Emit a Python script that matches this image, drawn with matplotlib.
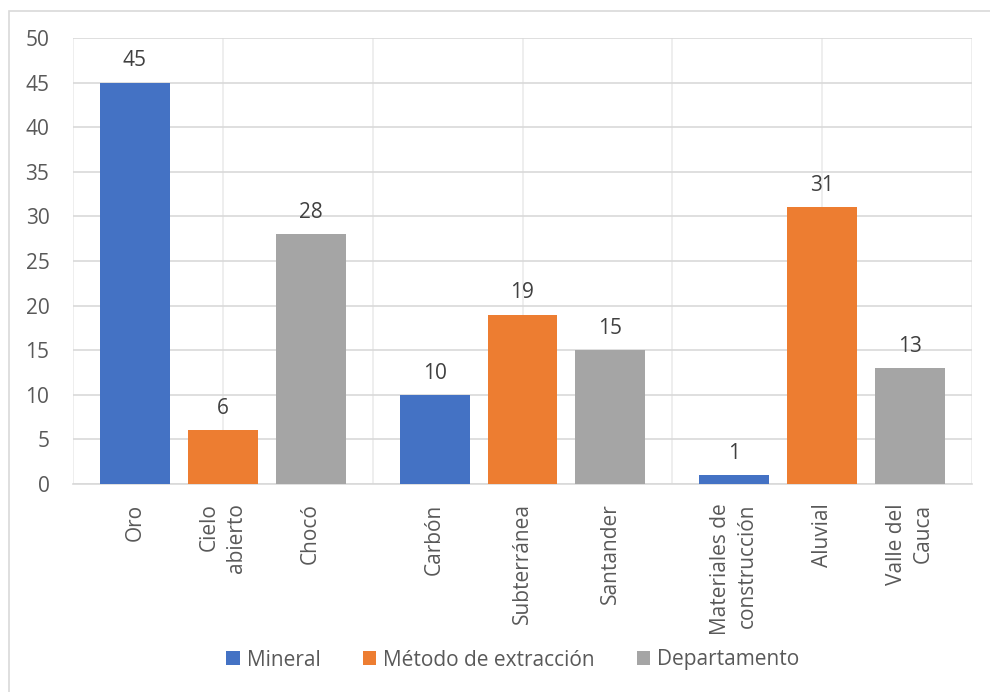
import numpy as np
import matplotlib
matplotlib.use("Agg")
import matplotlib.pyplot as plt
from matplotlib.patches import Rectangle

plt.rcParams['font.family'] = ['Open Sans', 'DejaVu Sans']

series_names = ["Mineral", "Método de extracción", "Departamento"]
mineral_labels = ["Oro", "Carbón", "Materiales de\nconstrucción"]
mineral_values = [45, 10, 1]
metodo_labels = ["Cielo\nabierto", "Subterránea", "Aluvial"]
metodo_values = [6, 19, 31]
depto_labels = ["Chocó", "Santander", "Valle del\nCauca"]
depto_values = [28, 15, 13]
yticks = [0, 5, 10, 15, 20, 25, 30, 35, 40, 45, 50]

colors = ["#4472C4", "#ED7D31", "#A5A5A5"]
text_col = "#595959"
grid_col = "#D9D9D9"
FS = 15

W, H = 990, 692
fig = plt.figure(figsize=(W / 100, H / 100), dpi=100)
ax = fig.add_axes([73 / W, 1 - 484 / H, (972 - 73) / W, (484 - 38) / H])

groups = np.arange(3)
offset = 88 / 300
width = 70 / 300
all_vals = [mineral_values, metodo_values, depto_values]
all_labels = [mineral_labels, metodo_labels, depto_labels]

tick_pos, tick_lab = [], []
for i, (vals, labs) in enumerate(zip(all_vals, all_labels)):
    x = groups + (i - 1) * offset
    bars = ax.bar(x, vals, width, color=colors[i], label=series_names[i], zorder=3)
    ax.bar_label(bars, padding=8, fontsize=FS, color="#404040")
    tick_pos.extend(x)
    tick_lab.extend(labs)

ax.set_xlim(-0.5, 2.5)
ax.set_ylim(0, 50)
ax.set_yticks(yticks)
ax.set_xticks(tick_pos)
ax.set_xticklabels(tick_lab, rotation=90, fontsize=FS, color=text_col)
for lbl in ax.get_xticklabels():
    lbl.set_multialignment('right')
    lbl.set_linespacing(1.35)
    lbl.set_verticalalignment('top')
ax.xaxis.remove_overlapping_locs = False
ax.set_xticks(np.arange(-0.5, 2.51, 0.5), minor=True)
ax.tick_params(axis='x', which='both', length=0, pad=14)
ax.tick_params(axis='y', length=0, pad=17, labelsize=FS, labelcolor=text_col)

ax.grid(axis='y', color=grid_col, lw=1.2, zorder=0)
ax.grid(axis='x', which='minor', color="#EBEBEB", lw=1.2, zorder=0)
for s in ['top', 'right', 'left']:
    ax.spines[s].set_visible(False)
ax.spines['bottom'].set_color(grid_col)
ax.spines['bottom'].set_linewidth(1.2)

leg = fig.legend(loc='center', bbox_to_anchor=(513 / W, 1 - 660 / H), ncol=3,
                 frameon=False, fontsize=FS, handlelength=0.65, handleheight=0.65,
                 handletextpad=0.35, columnspacing=2.0)
for t in leg.get_texts():
    t.set_color(text_col)

fig.add_artist(Rectangle((9 / W, -0.1), 2, 1 - 11 / H + 0.1, transform=fig.transFigure,
                         fill=False, edgecolor=grid_col, lw=1.2))

fig.savefig("out.png", dpi=100)
